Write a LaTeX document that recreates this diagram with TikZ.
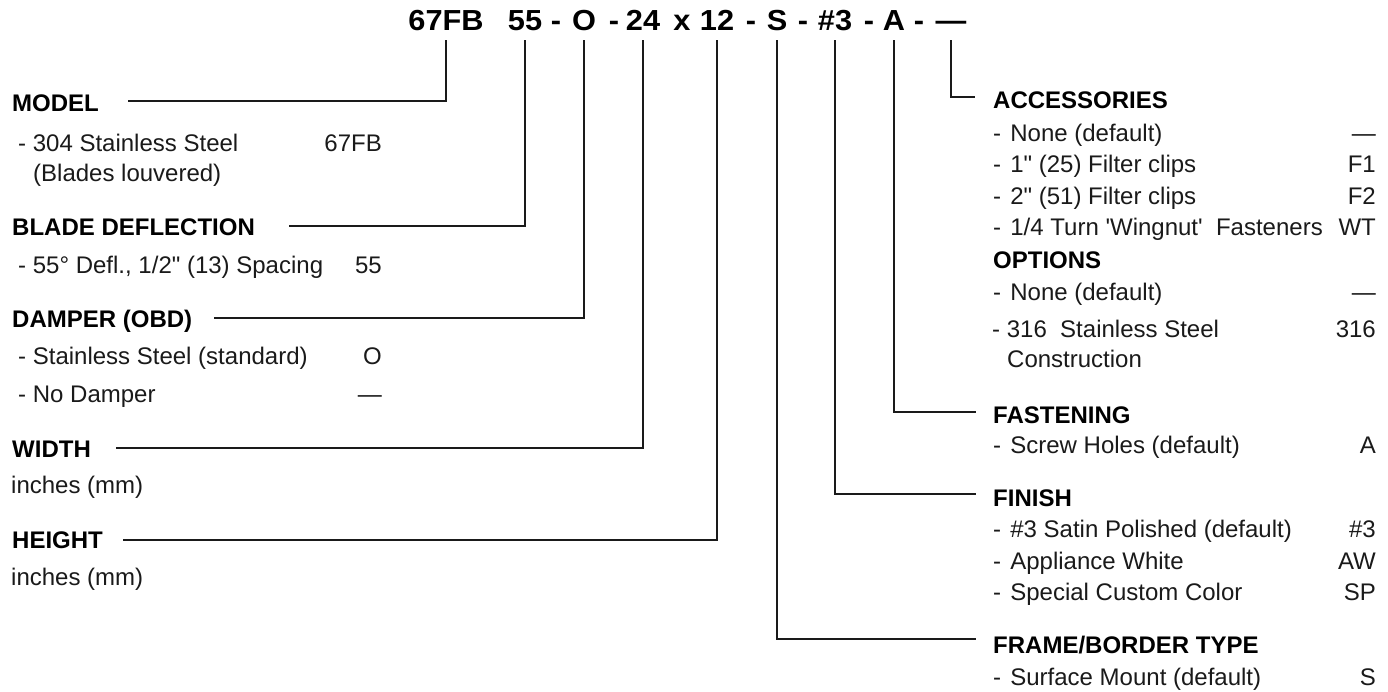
\documentclass[tikz,border=0pt]{standalone}
\usepackage{fontspec}
\setmainfont{Liberation Sans}
\newfontfamily\titlefont[FakeStretch=1.06]{Liberation Sans}
\definecolor{ink}{HTML}{1A1A1A}
\newcommand{\dsh}{-\hspace{2.5pt} }
\begin{document}
\begin{tikzpicture}[x=1pt,y=-1pt,
  txt/.style={anchor=base west, inner sep=0pt, font=\fontsize{24}{28}\selectfont, text=ink},
  hd/.style={anchor=base west, inner sep=0pt, font=\fontsize{24}{28}\selectfont\bfseries, text=black},
  code/.style={anchor=base east, inner sep=0pt, font=\fontsize{24}{28}\selectfont, text=ink},
  tok/.style={anchor=base, inner sep=0pt, font=\titlefont\bfseries\fontsize{29}{32}\selectfont, text=black},
  conn/.style={line width=2pt, draw=ink}]
\useasboundingbox[fill=white] (0,0) rectangle (1388,691);

% ---- title tokens
\node[tok] (t1) at (446,30.5) {67FB};
\node[tok] (t2) at (525,30.5) {55};
\node[tok] (d1) at (556,30.5) {-};
\node[tok] (t3) at (584,30.5) {O};
\node[tok] (d2) at (614,30.5) {-};
\node[tok] (t4) at (643,30.5) {24};
\node[tok] (tx) at (682,30.5) {x};
\node[tok] (t5) at (717,30.5) {12};
\node[tok] (d3) at (751,30.5) {-};
\node[tok] (t6) at (777,30.5) {S};
\node[tok] (d4) at (803,30.5) {-};
\node[tok] (t7) at (835,30.5) {\#3};
\node[tok] (d5) at (869,30.5) {-};
\node[tok] (t8) at (894,30.5) {A};
\node[tok] (d6) at (919,30.5) {-};
\node[tok] (t9) at (951,30.5) {—};

% ---- left column
\node[hd] (h1) at (12,111) {MODEL};
\node[txt] (m1) at (18,151) {- 304 Stainless Steel};
\node[code] (m1c) at (382,151) {67FB};
\node[txt] (m2) at (33,181) {(Blades louvered)};

\node[hd] (h2) at (12,235) {BLADE DEFLECTION};
\node[txt] (b1) at (18,273) {- 55° Defl., 1/2\textquotedbl{} (13) Spacing};
\node[code] (b1c) at (382,273) {55};

\node[hd] (h3) at (12,327) {DAMPER (OBD)};
\node[txt] (o1) at (18,364) {- Stainless Steel (standard)};
\node[code] (o1c) at (382,364) {O};
\node[txt] (o2) at (18,402) {- No Damper};
\node[code] (o2c) at (382,402) {—};

\node[hd] (h4) at (12,457) {WIDTH};
\node[txt] (w1) at (11,493) {inches (mm)};

\node[hd] (h5) at (12,548) {HEIGHT};
\node[txt] (g1) at (11,585) {inches (mm)};

% ---- right column
\node[hd] (h9) at (993,108) {ACCESSORIES};
\node[txt] (a1) at (993,141) {\dsh None (default)};
\node[code] (a1c) at (1376,141) {—};
\node[txt] (a2) at (993,172) {\dsh 1\textquotedbl{} (25) Filter clips};
\node[code] (a2c) at (1376,172) {F1};
\node[txt] (a3) at (993,204) {\dsh 2\textquotedbl{} (51) Filter clips};
\node[code] (a3c) at (1376,204) {F2};
\node[txt] (a4) at (993,235) {\dsh 1/4 Turn \textquotesingle Wingnut\textquotesingle\ \ Fasteners};
\node[code] (a4c) at (1376,235) {WT};
\node[hd] (hop) at (993,268) {OPTIONS};
\node[txt] (p1) at (993,300) {\dsh None (default)};
\node[code] (p1c) at (1376,300) {—};
\node[txt] (p2) at (992,337) {- 316 \ Stainless Steel};
\node[code] (p2c) at (1376,337) {316};
\node[txt] (p3) at (1007,367) {Construction};

\node[hd] (h8) at (993,423) {FASTENING};
\node[txt] (f1) at (993,453) {\dsh Screw Holes (default)};
\node[code] (f1c) at (1376,453) {A};

\node[hd] (h7) at (993,506) {FINISH};
\node[txt] (n1) at (993,537) {\dsh \#3 Satin Polished (default)};
\node[code] (n1c) at (1376,537) {\#3};
\node[txt] (n2) at (993,569) {\dsh Appliance White};
\node[code] (n2c) at (1376,569) {AW};
\node[txt] (n3) at (993,600) {\dsh Special Custom Color};
\node[code] (n3c) at (1376,600) {SP};

\node[hd] (h6) at (993,653) {FRAME/BORDER TYPE};
\node[txt] (s1) at (993,685) {\dsh Surface Mount (default)};
\node[code] (s1c) at (1376,685) {S};

% ---- connector ends
\coordinate (e1) at (128,100.7);
\coordinate (e2) at (289,226);
\coordinate (e3) at (214,318);
\coordinate (e4) at (116,447.7);
\coordinate (e5) at (123,540);
\coordinate (e6) at (976,639.3);
\coordinate (e7) at (976,494.3);
\coordinate (e8) at (976,411.7);
\coordinate (e9) at (975,97);

% ---- connectors
\draw[conn] ([yshift=-9.5pt]t1.base) |- (e1);
\draw[conn] ([yshift=-9.5pt]t2.base) |- (e2);
\draw[conn] ([yshift=-9.5pt]t3.base) |- (e3);
\draw[conn] ([yshift=-9.5pt]t4.base) |- (e4);
\draw[conn] ([yshift=-9.5pt]t5.base) |- (e5);
\draw[conn] ([yshift=-9.5pt]t6.base) |- (e6);
\draw[conn] ([yshift=-9.5pt]t7.base) |- (e7);
\draw[conn] ([yshift=-9.5pt]t8.base) |- (e8);
\draw[conn] ([yshift=-9.5pt]t9.base) |- (e9);
\end{tikzpicture}
\end{document}
